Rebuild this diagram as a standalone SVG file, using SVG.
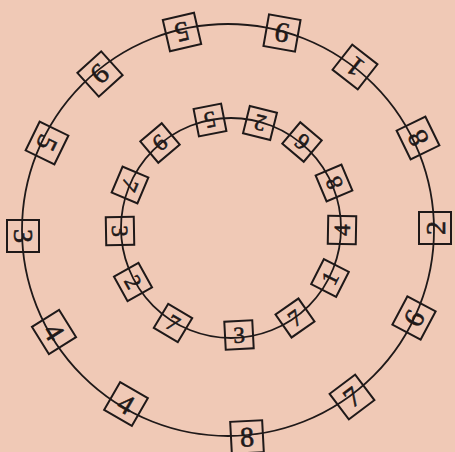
<svg xmlns="http://www.w3.org/2000/svg" width="455" height="452" viewBox="0 0 455 452">
<style>
.bg{fill:#f0c9b6}
.ring{fill:none;stroke:#1f1919;stroke-width:1.8}
.ob rect,.ib rect{fill:none;stroke:#1f1919;stroke-width:2}
.ob text,.ib text{font-family:"Liberation Serif","DejaVu Serif",serif;fill:#1f1919;stroke:#1f1919;stroke-width:0.6;text-anchor:middle}
.ob text{font-size:28px}
.ib text{font-size:23px}
</style>
<rect class="bg" width="455" height="452"/>
<g id="connectors">
<circle class="ring" cx="228" cy="230" r="206"/>
<circle class="ring" cx="231" cy="228" r="110"/>
</g>
<g id="o1" class="ob" transform="translate(182,32) rotate(167)"><rect x="-16" y="-16" width="32" height="32"/><text y="9.5">5</text></g>
<g id="o2" class="ob" transform="translate(282,33) rotate(-170)"><rect x="-16" y="-16" width="32" height="32"/><text y="9.5">9</text></g>
<g id="o3" class="ob" transform="translate(355,67) rotate(-142)"><rect x="-16" y="-16" width="32" height="32"/><text y="9.5">1</text></g>
<g id="o4" class="ob" transform="translate(418,138) rotate(-116)"><rect x="-16" y="-16" width="32" height="32"/><text y="9.5">8</text></g>
<g id="o5" class="ob" transform="translate(435,228) rotate(-90)"><rect x="-16" y="-16" width="32" height="32"/><text y="9.5">2</text></g>
<g id="o6" class="ob" transform="translate(414,318) rotate(-62)"><rect x="-16" y="-16" width="32" height="32"/><text y="9.5">6</text></g>
<g id="o7" class="ob" transform="translate(352,397) rotate(-37)"><rect x="-16" y="-16" width="32" height="32"/><text y="9.5">7</text></g>
<g id="o8" class="ob" transform="translate(247,437) rotate(-3)"><rect x="-16" y="-16" width="32" height="32"/><text y="9.5">8</text></g>
<g id="o9" class="ob" transform="translate(126,404) rotate(30)"><rect x="-16" y="-16" width="32" height="32"/><text y="9.5">4</text></g>
<g id="o10" class="ob" transform="translate(54,332) rotate(58)"><rect x="-16" y="-16" width="32" height="32"/><text y="9.5">4</text></g>
<g id="o11" class="ob" transform="translate(23,236) rotate(90)"><rect x="-16" y="-16" width="32" height="32"/><text y="9.5">3</text></g>
<g id="o12" class="ob" transform="translate(47,143) rotate(116)"><rect x="-16" y="-16" width="32" height="32"/><text y="9.5">5</text></g>
<g id="o13" class="ob" transform="translate(100,74) rotate(138)"><rect x="-16" y="-16" width="32" height="32"/><text y="9.5">9</text></g>
<g id="i1" class="ib" transform="translate(210,120) rotate(169)"><rect x="-14" y="-14" width="28" height="28"/><text y="7.8">5</text></g>
<g id="i2" class="ib" transform="translate(260,123) rotate(-166)"><rect x="-14" y="-14" width="28" height="28"/><text y="7.8">2</text></g>
<g id="i3" class="ib" transform="translate(302,142) rotate(-140)"><rect x="-14" y="-14" width="28" height="28"/><text y="7.8">6</text></g>
<g id="i4" class="ib" transform="translate(334,183) rotate(-113)"><rect x="-14" y="-14" width="28" height="28"/><text y="7.8">8</text></g>
<g id="i5" class="ib" transform="translate(342,230) rotate(-89)"><rect x="-14" y="-14" width="28" height="28"/><text y="7.8">4</text></g>
<g id="i6" class="ib" transform="translate(330,278) rotate(-63)"><rect x="-14" y="-14" width="28" height="28"/><text y="7.8">1</text></g>
<g id="i7" class="ib" transform="translate(295,318) rotate(-35)"><rect x="-14" y="-14" width="28" height="28"/><text y="7.8">7</text></g>
<g id="i8" class="ib" transform="translate(239,335) rotate(-3)"><rect x="-14" y="-14" width="28" height="28"/><text y="7.8">3</text></g>
<g id="i9" class="ib" transform="translate(173,323) rotate(31)"><rect x="-14" y="-14" width="28" height="28"/><text y="7.8">7</text></g>
<g id="i10" class="ib" transform="translate(133,282) rotate(61)"><rect x="-14" y="-14" width="28" height="28"/><text y="7.8">2</text></g>
<g id="i11" class="ib" transform="translate(120,231) rotate(89)"><rect x="-14" y="-14" width="28" height="28"/><text y="7.8">3</text></g>
<g id="i12" class="ib" transform="translate(130,185) rotate(113)"><rect x="-14" y="-14" width="28" height="28"/><text y="7.8">7</text></g>
<g id="i13" class="ib" transform="translate(160,143) rotate(140)"><rect x="-14" y="-14" width="28" height="28"/><text y="7.8">9</text></g>
</svg>
